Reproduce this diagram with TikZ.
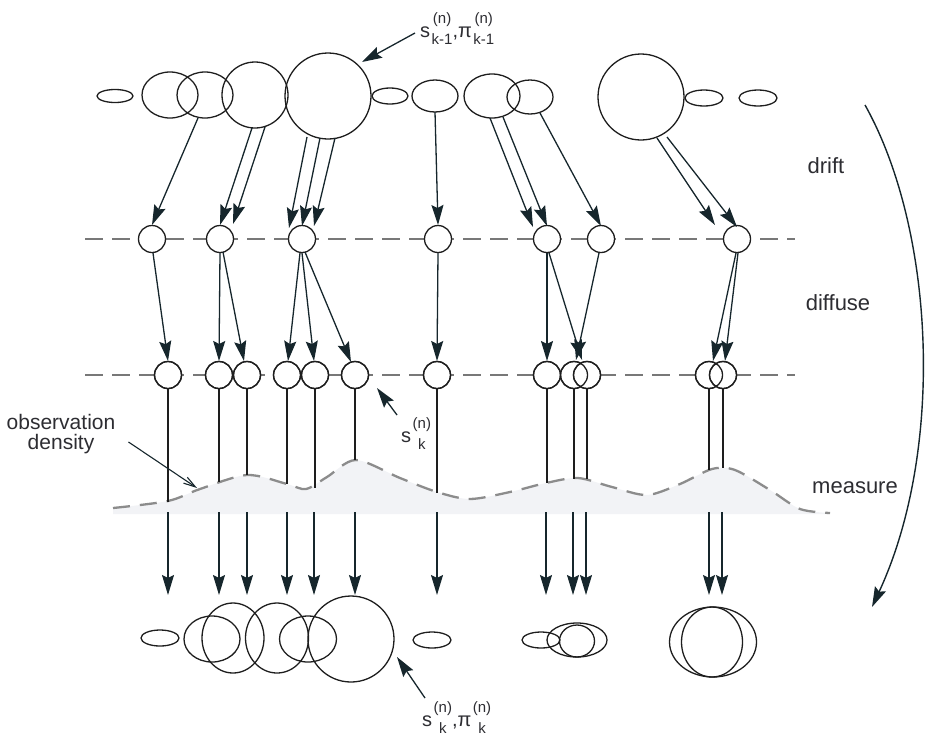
\documentclass[tikz,border=0pt]{standalone}
\usepackage{fontspec}
\setmainfont{Liberation Sans}
\usetikzlibrary{arrows.meta,shapes.geometric,calc}
\definecolor{arrowc}{RGB}{22,38,44}
\definecolor{shapec}{RGB}{30,30,30}
\definecolor{dashc}{RGB}{120,120,120}
\definecolor{obsfill}{RGB}{242,243,246}
\definecolor{textc}{RGB}{45,45,50}
\newcommand{\lbl}[3]{#1\hspace{1.5pt}\raisebox{-7pt}{\fontsize{15}{21}\selectfont\begin{tabular}[b]{@{}c@{}}#2\\#3\end{tabular}}}
\begin{document}
\begin{tikzpicture}[x=1pt,y=-1pt,
  shp/.style={draw=shapec, line width=1.3pt, inner sep=0pt, outer sep=0pt},
  circ/.style={shp, circle, minimum size=#1},
  ell/.style 2 args={shp, ellipse, minimum width=#1, minimum height=#2},
  pt/.style={shp, circle, fill=white, minimum size=27pt},
  arr/.style={draw=arrowc, line width=1.3pt, -{Stealth[length=20pt,width=12pt,inset=3pt]}},
  vl/.style={draw=shapec, line width=1.2pt},
  dline/.style={draw=dashc, line width=1.5pt, dash pattern=on 18pt off 9pt},
  lab/.style={font=\fontsize{22}{26}\selectfont, text=textc, inner sep=0pt},
  slab/.style={font=\fontsize{20}{24}\selectfont, text=textc, inner sep=0pt, anchor=base west}
]
\useasboundingbox (0,0) rectangle (925,737);

% ---------------- observation density (fill + curve)
\fill[obsfill] plot[smooth] coordinates {(113,508) (168,501) (200,489) (247,475) (287,484) (306,489) (327,477) (356,460) (400,478) (437,492) (470,499) (510,492) (546,483) (578,478) (612,487) (647,495) (680,484) (712,469) (735,470) (770,490) (800,509) (830,513)} -- (830,514) -- (113,514) -- cycle;
\draw[draw=dashc!85, line width=2.3pt, dash pattern=on 17pt off 10pt] plot[smooth] coordinates {(113,508) (168,501) (200,489) (247,475) (287,484) (306,489) (327,477) (356,460) (400,478) (437,492) (470,499) (510,492) (546,483) (578,478) (612,487) (647,495) (680,484) (712,469) (735,470) (770,490) (800,509) (830,513)};

% ---------------- dashed level lines
\coordinate (dlA) at (85,239);  \coordinate (dlB) at (795,239);
\coordinate (flA) at (85,375);  \coordinate (flB) at (795,375);
\draw[dline] (dlA) -- (dlB);
\draw[dline] (flA) -- (flB);

% ---------------- top row (k-1)
\node[ell={36pt}{13pt}] (t1) at (115,96) {};
\node[ell={56pt}{46pt}] (t2) at (170,95) {};
\node[ell={56pt}{46pt}] (t3) at (205,95) {};
\node[circ=66pt] (t4) at (255,95) {};
\node[circ=86pt] (t5) at (328,96) {};
\node[ell={36pt}{16pt}] (t6) at (390,96) {};
\node[ell={46pt}{32pt}] (t7) at (435,96) {};
\node[ell={56pt}{44pt}] (t8) at (492,96) {};
\node[ell={46pt}{34pt}] (t9) at (530,97) {};
\node[circ=86pt] (t10) at (641,97) {};
\node[ell={38pt}{16pt}] (t11) at (704,98) {};
\node[ell={38pt}{16pt}] (t12) at (758,98) {};

% ---------------- drift row
\foreach \n/\x in {m1/152,m2/220,m3/302,m4/438,m5/547,m6/601,m7/737}
  \node[pt] (\n) at (\x,239) {};

% ---------------- diffuse row
\foreach \n/\x in {d1/168,d2/219,d3/247,d4/287,d5/315,d6/355,d7/437,d8/547,d9/574,d10/587,d11/709,d12/723}
  \node[pt] (\n) at (\x,375) {};
\foreach \n in {d1,d2,d3,d4,d5,d6,d7,d8,d9,d10,d11,d12}
  \draw[shp] (\n.center) circle[radius=13.5];

% ---------------- drift arrows
\draw[arr] ($(t3)+(-7,23)$) -- ($(m1)+(0,-14)$);
\draw[arr] ($(t4)+(-3,33)$) -- ($(m2)+(0,-14)$);
\draw[arr] ($(t4)+(10,32)$) -- ($(m2)+(13,-15)$);
\draw[arr] ($(t5)+(-21,41)$) -- ($(m3)+(-13,-11)$);
\draw[arr] ($(t5)+(-8,42)$) -- ($(m3)+(0,-13)$);
\draw[arr] ($(t5)+(7,42)$) -- ($(m3)+(12,-13)$);
\draw[arr] ($(t7)+(0,16)$) -- ($(m4)+(0,-14)$);
\draw[arr] ($(t8)+(-2,22)$) -- ($(m5)+(-14,-12)$);
\draw[arr] ($(t8)+(11,21)$) -- ($(m5)+(0,-13)$);
\draw[arr] ($(t9)+(10,16)$) -- ($(m6)+(0,-13)$);
\draw[arr] ($(t10)+(16,41)$) -- ($(m7)+(-22,-14)$);
\draw[arr] ($(t10)+(26,40)$) -- ($(m7)+(0,-12)$);

% ---------------- diffuse arrows
\draw[arr] ($(m1)+(1,14)$) -- ($(d1)+(0,-14)$);
\draw[arr] ($(m2)+(0,14)$) -- ($(d2)+(0,-14)$);
\draw[arr] ($(m2)+(3,13)$) -- ($(d3)+(-3,-14)$);
\draw[arr] ($(m3)+(-2,14)$) -- ($(d4)+(1,-14)$);
\draw[arr] ($(m3)+(0,14)$) -- ($(d5)+(-1,-14)$);
\draw[arr] ($(m3)+(3,13)$) -- ($(d6)+(-4,-13)$);
\draw[arr] ($(m4)+(0,14)$) -- ($(d7)+(0,-14)$);
\draw[arr] ($(m5)+(0,14)$) -- ($(d8)+(0,-14)$);
\draw[arr] ($(m5)+(2,14)$) -- ($(d10)+(-5,-15)$);
\draw[arr] ($(m6)+(-2,14)$) -- ($(d9)+(2,-15)$);
\draw[arr] ($(m7)+(-1,14)$) -- ($(d11)+(4,-14)$);
\draw[arr] ($(m7)+(1,14)$) -- ($(d12)+(2,-14)$);

% ---------------- measure: lines to the density curve
\foreach \n/\x/\y in {d1/168/502,d2/219/482,d3/247/475,d4/287/484,d5/315/488,d6/355/460,d7/437/493,d8/547/483,d9/574/479,d10/587/479,d11/709/470,d12/723/468}{
  \coordinate (c\n) at (\x,\y);
  \draw[vl] (\n.south) -- (c\n);
}

% ---------------- resampling arrows
\foreach \i/\x in {1/168,2/219,3/247,4/287,5/314,6/355,7/437,8/546,9/573,10/586,11/709,12/722}{
  \coordinate (ra\i) at (\x,512);
  \coordinate (rb\i) at (\x,595);
  \draw[arr] (ra\i) -- (rb\i);
}

% ---------------- bottom row (k)
\node[ell={38pt}{16pt}] (b1) at (160,638) {};
\node[ell={56pt}{46pt}] (b2) at (212,639) {};
\node[ell={62pt}{70pt}] (b3) at (233,638) {};
\node[ell={63pt}{70pt}] (b4) at (277,638) {};
\node[ell={57pt}{46pt}] (b5) at (308,639) {};
\node[circ=86pt] (b6) at (351,639) {};
\node[ell={38pt}{16pt}] (b7) at (432,640) {};
\node[ell={38pt}{16pt}] (b8) at (541,640) {};
\node[ell={60pt}{34pt}] (b9) at (577,640) {};
\node[ell={35pt}{32pt}] (b10) at (577,641) {};
\node[ell={87pt}{70pt}] (b11) at (713,642) {};
\node[ell={61pt}{70pt}] (b12) at (712,642) {};

% ---------------- labels
\node[lab] (drift) at (826,166) {drift};
\node[lab] (diffuse) at (838,303) {diffuse};
\node[lab] (measure) at (855,488) {measure};

\node[slab] (lt) at (420,37) {\lbl{s}{(n)}{k-1},\lbl{π}{(n)}{k-1}};
\draw[arr] ($(lt.base west)+(-5,-4)$) -- ($(t5)+(34,-34)$);

\node[slab] (lk) at (401,442) {\lbl{s}{(n)}{k}};
\draw[arr] ($(lk.base west)+(-4,-27)$) -- ($(d6)+(22,13)$);

\node[slab] (lb) at (422,726) {\lbl{s}{(n)}{k},\lbl{π}{(n)}{k}};
\draw[arr] ($(lb.base west)+(3,-28)$) -- ($(b6)+(46,18)$);

\node[font=\fontsize{21}{20}\selectfont, text=textc, align=center, inner sep=0pt] (obs) at (61,434) {observation\\density};
\draw[draw=arrowc, line width=1.1pt, -{Straight Barb[length=12pt,width=7pt]}] ($(obs.east)+(13,8)$) -- (197,488);

% ---------------- cycle arrow
\coordinate (cyA) at (865,105);
\coordinate (cyB) at (872,607);
\draw[arr, line width=1.4pt] (cyA) .. controls (935,230) and (945,450) .. (cyB);
\end{tikzpicture}
\end{document}
